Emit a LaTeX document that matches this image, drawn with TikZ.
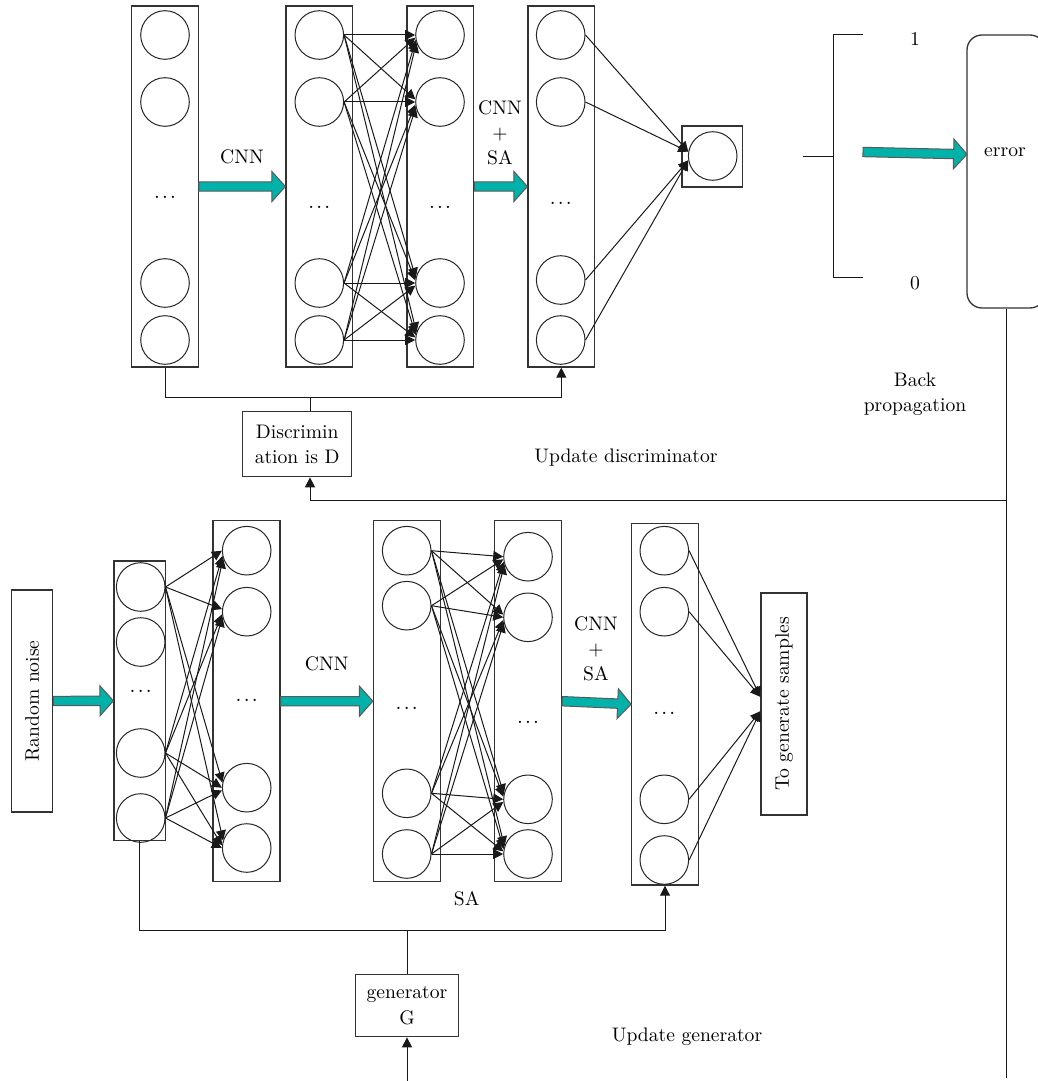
\documentclass[tikz,border=0pt]{standalone}
\usetikzlibrary{calc,arrows.meta}
\definecolor{fatteal}{RGB}{0,178,169}
\newcommand\fatarrow[2]{%
  \path ($(#2)!6.7pt!(#1)$) coordinate (fa-m);
  \filldraw[fatstyle] ($(#1)!2.35pt!90:(#2)$) -- ($(fa-m)!2.35pt!90:(#2)$) --
    ($(fa-m)!7.5pt!90:(#2)$) -- (#2) -- ($(fa-m)!7.5pt!-90:(#2)$) --
    ($(fa-m)!2.35pt!-90:(#2)$) -- ($(#1)!2.35pt!-90:(#2)$) -- cycle;}
\newcommand\vdotsrow{.\kern1.1pt.\kern1.1pt.}
\begin{document}
\begin{tikzpicture}[x=0.5pt,y=-0.5pt,
  font=\fontsize{9.8}{12.6}\selectfont,
  box/.style={draw=black!80,line width=0.65pt,inner sep=0pt},
  neuron/.style={circle,draw=black!85,line width=0.5pt,minimum size=24.3pt,inner sep=0pt},
  conn/.style={draw=black!90,line width=0.5pt},
  arr/.style={-{Triangle[length=5pt,width=5pt]}},
  fatstyle/.style={fill=fatteal,draw=black!65,line width=0.5pt},
  lbl/.style={inner sep=1pt,align=center},
  dotsn/.style={inner sep=0pt,font=\fontsize{10.5}{12}\selectfont}]
\useasboundingbox (0,0) rectangle (1038,1081);
\clip (0,0) rectangle (1038,1081);

% ---------- discriminator ----------
\node[box,minimum width=33.3pt,minimum height=180.5pt] (D1) at (165,186.5) {};
\node[box,minimum width=33.3pt,minimum height=180.5pt] (D2) at (319.3,186.5) {};
\node[box,minimum width=33.3pt,minimum height=180.5pt] (D3) at (440.3,186.5) {};
\node[box,minimum width=33.3pt,minimum height=180.5pt] (D4) at (561.3,186.5) {};
\foreach \n/\y in {1/35,2/102,3/283,4/340}{
  \node[neuron] (D1c\n) at (165,\y) {};
  \node[neuron] (D2c\n) at (319.3,\y) {};
  \node[neuron] (D3c\n) at (440,\y) {};
}
\foreach \n/\y in {1/35,2/102,3/280,4/340}
  \node[neuron] (D4c\n) at (560.7,\y) {};
\node[dotsn] (D1d) at (165,197) {\vdotsrow};
\node[dotsn] (D2d) at (319.3,207) {\vdotsrow};
\node[dotsn] (D3d) at (440,207) {\vdotsrow};
\node[dotsn] (D4d) at (560.7,203) {\vdotsrow};

\node[box,minimum width=30.35pt,minimum height=30.5pt] (ob) at (712.3,156.5) {};
\node[neuron] (oc) at (712.7,156) {};

\foreach \i in {1,...,4}{\foreach \j in {1,...,4}{
  \pgfmathtruncatemacro\ang{180+6*(\i-\j)}
  \draw[conn,arr] (D2c\i.east) -- (D3c\j.\ang);
}}
\draw[conn,arr] (D4c1.east) -- (oc.170);
\draw[conn,arr] (D4c2.east) -- (oc.170);
\draw[conn,arr] (D4c3.east) -- (oc.190);
\draw[conn,arr] (D4c4.east) -- (oc.190);

\fatarrow{D1.east}{D2.west}
\fatarrow{D3.east}{D4.west}
\node[lbl] (dcnn) at (242,157) {CNN};
\node[lbl] (dcnnsa) at (500,133) {CNN\\+\\SA};

% bracket and error
\coordinate (brkL) at (803,156);
\coordinate (brkT) at (863,35);
\coordinate (brkB) at (863,277);
\draw[conn] (brkT) -- (833,35) -- (833,277) -- (brkB);
\draw[conn] (brkL) -- (833,156);
\node[lbl] (one) at (915,39) {1};
\node[lbl] (zero) at (915,283) {0};
\node[box,rounded corners=7.5pt,minimum width=39pt,minimum height=136.5pt] (err) at (1006,171.5) {};
\node[lbl] (errt) at (1005,152) {error};
\coordinate (brkA) at (863,152);
\coordinate (errin) at (967,154.3);
\fatarrow{brkA}{errin}
\node[lbl] (bp) at (915,394) {Back\\propagation};

% discriminator update
\node[box,align=center,minimum width=54.5pt,minimum height=32.5pt] (disc) at (297.2,444.2) {Discrimin\\ation is D};
\coordinate (dbus) at (310,397.7);
\draw[conn,arr] (D1.south) |- (dbus) -| (D4.south);
\draw[conn] (dbus) -- (dbus |- disc.north);
\coordinate (bpj) at (1006,500.7);
\coordinate (bpend) at (1006,1078);
\draw[conn] (err.south) -- (bpend);
\draw[conn,arr] (bpj) -| (dbus |- disc.south);
\node[lbl] (ud) at (626,458) {Update discriminator};

% ---------- generator ----------
\node[box,minimum width=20.5pt,minimum height=111pt] (rn) at (32.2,701) {};
\node[rotate=90] (rnt) at (32.2,701) {Random noise};
\node[box,minimum width=25.65pt,minimum height=139.85pt] (G1) at (139.7,700.8) {};
\node[box,minimum width=33.5pt,minimum height=180.5pt] (G2) at (246.5,701.2) {};
\node[box,minimum width=33.5pt,minimum height=180.5pt] (G3) at (407,701.2) {};
\node[box,minimum width=33.5pt,minimum height=180.5pt] (G4) at (528,701.2) {};
\node[box,minimum width=33.3pt,minimum height=180.85pt] (G5) at (665,704.2) {};
\node[box,minimum width=23pt,minimum height=111pt] (tg) at (784,704) {};
\node[rotate=90] (tgt) at (784,704) {To generate samples};

\foreach \n/\y in {1/587,2/642,3/753,4/818}
  \node[neuron] (G1c\n) at (140.7,\y) {};
\foreach \n/\y in {1/550.7,2/611.7,3/787.7,4/848}
  \node[neuron] (G2c\n) at (246.7,\y) {};
\foreach \n/\y in {1/550.7,2/605.7,3/793.3,4/854}
  \node[neuron] (G3c\n) at (406.7,\y) {};
\foreach \n/\y in {1/556.7,2/617.3,3/799.3,4/854}
  \node[neuron] (G4c\n) at (528,\y) {};
\foreach \n/\y in {1/550.7,2/611.7,3/799.3,4/860}
  \node[neuron] (G5c\n) at (664.3,\y) {};
\node[dotsn] (G1d) at (140.7,691) {\vdotsrow};
\node[dotsn] (G2d) at (246.7,700) {\vdotsrow};
\node[dotsn] (G3d) at (406.7,708) {\vdotsrow};
\node[dotsn] (G4d) at (528,722.7) {\vdotsrow};
\node[dotsn] (G5d) at (664.3,713) {\vdotsrow};

\foreach \i in {1,3,4}{\foreach \j in {1,...,4}{
  \pgfmathtruncatemacro\ang{180+6*(\i-\j)}
  \draw[conn,arr] (G1c\i.east) -- (G2c\j.\ang);
}}
\foreach \i in {1,...,4}{\foreach \j in {1,...,4}{
  \pgfmathtruncatemacro\ang{180+6*(\i-\j)}
  \draw[conn,arr] (G3c\i.east) -- (G4c\j.\ang);
}}
\draw[conn,arr] (G5c1.east) -- ([yshift=3.6pt]tg.west);
\draw[conn,arr] (G5c2.east) -- ([yshift=3.6pt]tg.west);
\draw[conn,arr] (G5c3.east) -- ([yshift=-3.6pt]tg.west);
\draw[conn,arr] (G5c4.east) -- ([yshift=-3.6pt]tg.west);

\fatarrow{rn.east}{G1.west}
\fatarrow{G2.east}{G3.west}
\fatarrow{G4.east}{G5.west}
\node[lbl] (gcnn) at (326.7,664) {CNN};
\node[lbl] (gcnnsa) at (596,649) {CNN\\+\\SA};
\node[lbl] (gsa) at (466.7,899) {SA};

\node[box,align=center,minimum width=51.7pt,minimum height=31pt] (gen) at (407,1005.7) {generator\\G};
\coordinate (gbus) at (407,930.7);
\draw[conn,arr] (G1.south) |- (gbus) -| (G5.south);
\draw[conn] (gbus) -- (gen.north);
\coordinate (gin) at (407,1081);
\draw[conn,arr] (gin) -- (gen.south);
\node[lbl] (ug) at (687,1036.7) {Update generator};
\end{tikzpicture}
\end{document}
